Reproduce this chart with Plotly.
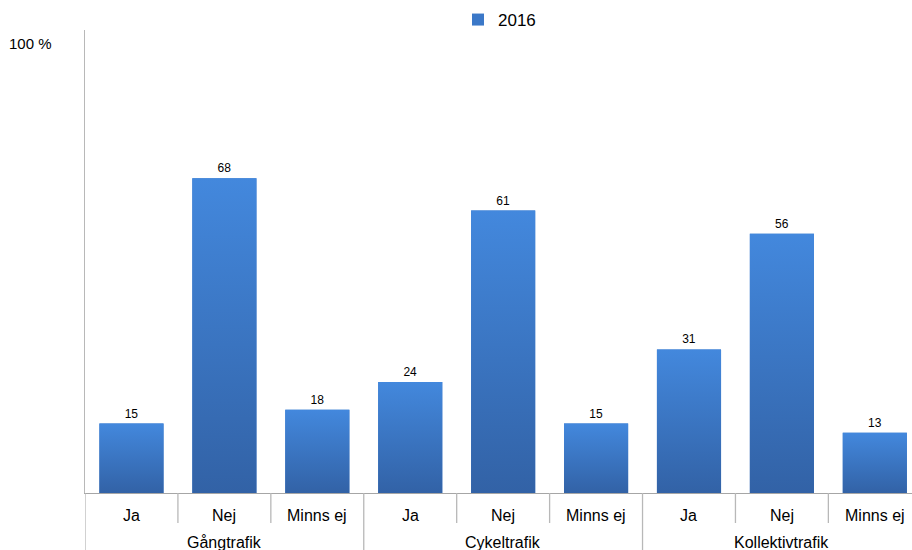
import plotly.graph_objects as go

groups = ["Gångtrafik", "Cykeltrafik", "Kollektivtrafik"]
answers = ["Ja", "Nej", "Minns ej"]
values_2016 = [15, 68, 18, 24, 61, 15, 31, 56, 13]
series_name = "2016"

BAR_W = 0.69
FONT = "Liberation Sans, Arial, sans-serif"
n = len(values_2016)
xs = list(range(n))

fig = go.Figure()
fig.add_trace(go.Bar(
    x=xs, y=values_2016, name=series_name, width=BAR_W,
    marker=dict(color="#3b78c8", line=dict(width=0)),
    text=[str(v) for v in values_2016], textposition="outside",
    textfont=dict(size=12, color="#000000", family=FONT), cliponaxis=False,
))
# gradient overlay per bar
for x, v in zip(xs, values_2016):
    fig.add_trace(go.Scatter(
        x=[x - BAR_W / 2, x + BAR_W / 2, x + BAR_W / 2, x - BAR_W / 2, x - BAR_W / 2],
        y=[0, 0, v, v, 0], mode="lines", line=dict(width=0), fill="toself",
        fillgradient=dict(type="vertical", colorscale=[[0, "#3262a6"], [1, "#4388dd"]]),
        showlegend=False, hoverinfo="skip",
    ))

T, B = 30, 57
H = 550 - T - B

def py(pix):
    return (550 - B - pix) / H

shapes = []
ann = []
for i, lab in enumerate(answers * len(groups)):
    ann.append(dict(x=i, y=py(515), xref="x", yref="paper", text=lab, showarrow=False,
                    yanchor="middle", xanchor="center",
                    font=dict(size=16, family=FONT, color="#000")))
for i in range(1, n):
    long = i % len(answers) == 0
    shapes.append(dict(type="line", xref="x", yref="paper", x0=i - 0.5, x1=i - 0.5,
                       y0=0, y1=py(550) if long else py(523),
                       line=dict(color="#b8b8b8", width=1.3)))
shapes.append(dict(type="line", xref="x", yref="paper", x0=-0.5, x1=-0.5,
                   y0=0, y1=py(550), line=dict(color="#b8b8b8", width=1.3)))
for g, name in enumerate(groups):
    ann.append(dict(x=g * len(answers) + 1, y=py(542), xref="x", yref="paper", text=name,
                    showarrow=False, yanchor="middle", xanchor="center",
                    font=dict(size=16, family=FONT, color="#000")))
ann.append(dict(x=0, y=py(44), xref="paper", yref="paper", xshift=-55, text="100 %",
                showarrow=False, yanchor="middle", xanchor="center",
                font=dict(size=15, family=FONT, color="#000")))

fig.update_layout(
    width=912, height=550, margin=dict(l=85, r=0, t=T, b=B, autoexpand=False),
    plot_bgcolor="white", paper_bgcolor="white",
    showlegend=True,
    legend=dict(orientation="h", x=458 / 912, y=1 - 2 / 550, xref="container", yref="container",
                yanchor="top", xanchor="left", font=dict(size=17, family=FONT, color="#000"),
                bgcolor="rgba(0,0,0,0)", itemwidth=30),
    xaxis=dict(range=[-0.5, 8.4], showticklabels=False, showgrid=False, zeroline=False,
               showline=True, linecolor="#a6a6a6", linewidth=1.3, ticks=""),
    yaxis=dict(range=[0, 100], showticklabels=False, showgrid=False, zeroline=False,
               showline=True, linecolor="#b8b8b8", linewidth=1.3, ticks=""),
    shapes=shapes, annotations=ann, bargap=0.31,
)
fig.write_html("out.html", config={"displayModeBar": False},
               post_script="document.body.style.margin='0px';document.body.style.overflow='hidden';")
